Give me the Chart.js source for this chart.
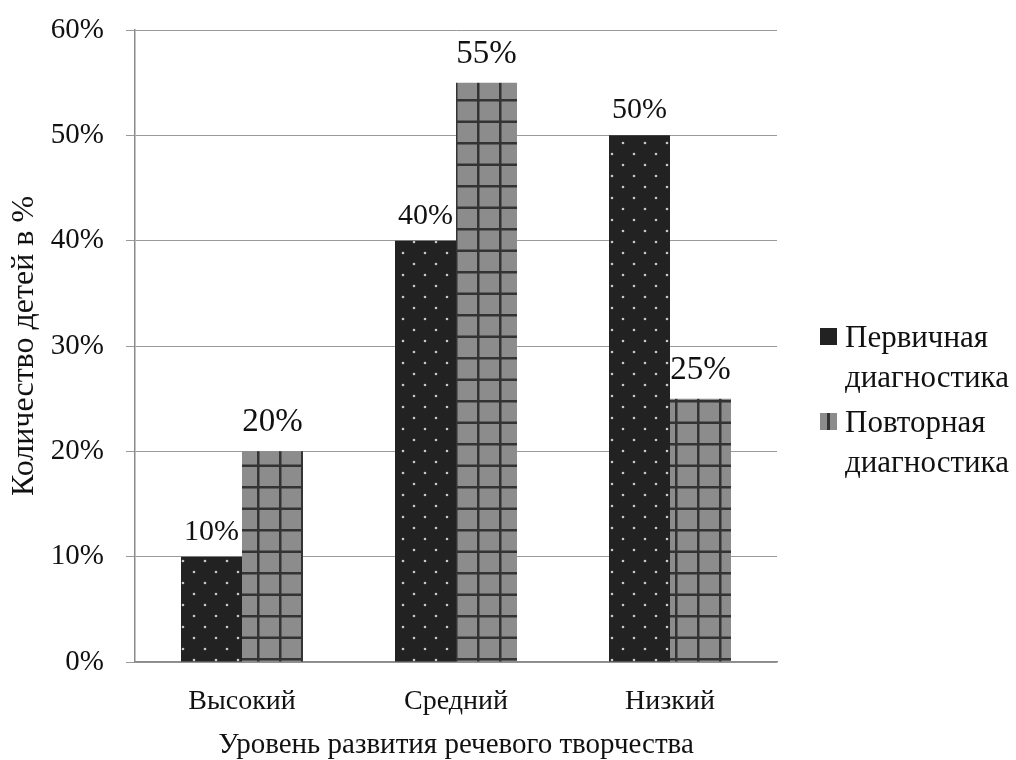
<!DOCTYPE html>
<html>
<head>
<meta charset="utf-8">
<script src="https://cdn.jsdelivr.net/npm/chart.js@4/dist/chart.umd.min.js"></script>
<style>
  html, body { margin: 0; padding: 0; background: #fff; }
  #wrap { width: 1016px; height: 760px; }
</style>
</head>
<body>
<div id="wrap"><canvas id="chart" width="1016" height="760"></canvas></div>
<script>
// data
const levels = ['Высокий', 'Средний', 'Низкий'];
const firstDiag = [10, 40, 50];
const secondDiag = [20, 55, 25];
const seriesNames = [['Первичная', 'диагностика'], ['Повторная', 'диагностика']];
const yTicks = [0, 10, 20, 30, 40, 50, 60];

const serif = '"Liberation Serif", "DejaVu Serif", serif';

// dotted dark fill
function dotPattern() {
    const c = document.createElement('canvas');
    c.width = 22; c.height = 22;
    const g = c.getContext('2d');
    g.fillStyle = '#222';
    g.fillRect(0, 0, 22, 22);
    g.fillStyle = '#c8c8c8';
    [[7, 11], [18, 0], [18, 22]].forEach(p => {
        g.beginPath();
        g.arc(p[0], p[1], 1.3, 0, Math.PI * 2);
        g.fill();
    });
    return g.createPattern(c, 'repeat');
}

// gray grid fill, rows a bit tighter than columns
function gridPattern() {
    const c = document.createElement('canvas');
    c.width = 22; c.height = 43;
    const g = c.getContext('2d');
    g.fillStyle = '#8c8c8c';
    g.fillRect(0, 0, 22, 43);
    g.fillStyle = '#333';
    g.fillRect(0, 0, 2.5, 43);
    g.fillRect(0, 0, 22, 2.5);
    g.fillRect(0, 21.5, 22, 2.5);
    const p = g.createPattern(c, 'repeat');
    p.setTransform(new DOMMatrix().translate(15, 13));
    return p;
}

const fills = [dotPattern(), gridPattern()];

// values above the bars
const valueLabels = {
    id: 'valueLabels',
    afterDatasetsDraw(chart) {
        const ctx = chart.ctx;
        ctx.save();
        ctx.fillStyle = '#111';
        ctx.textAlign = 'center';
        ctx.textBaseline = 'alphabetic';
        chart.data.datasets.forEach((ds, i) => {
            ctx.font = (i === 0 ? '30px ' : '33px ') + serif;
            chart.getDatasetMeta(i).data.forEach((bar, j) => {
                ctx.fillText(ds.data[j] + '%', bar.x, bar.y - (i === 0 ? 17 : 20));
            });
        });
        ctx.restore();
    }
};

// two-line legend on the right
const sideLegend = {
    id: 'sideLegend',
    afterDraw(chart) {
        const ctx = chart.ctx;
        ctx.save();
        ctx.font = '31px ' + serif;
        ctx.textBaseline = 'alphabetic';
        ctx.textAlign = 'left';
        const x = 820, base0 = 347, step = 85;
        seriesNames.forEach((lines, i) => {
            const b = base0 + i * step;
            ctx.fillStyle = i === 0 ? '#222' : '#8c8c8c';
            ctx.fillRect(x, b - 19, 17, 17);
            if (i === 1) {
                ctx.fillStyle = '#333';
                ctx.fillRect(x + 7, b - 19, 3, 17);
            }
            ctx.fillStyle = '#111';
            ctx.fillText(lines[0], x + 25, b);
            ctx.fillText(lines[1], x + 25, b + 40);
        });
        ctx.restore();
    }
};

new Chart(document.getElementById('chart'), {
    type: 'bar',
    data: {
        labels: levels,
        datasets: [
            { label: seriesNames[0].join(' '), data: firstDiag, backgroundColor: fills[0] },
            { label: seriesNames[1].join(' '), data: secondDiag, backgroundColor: fills[1] }
        ]
    },
    options: {
        responsive: false,
        animation: false,
        layout: { padding: { top: 30, right: 239, left: 0, bottom: 0 } },
        datasets: { bar: { categoryPercentage: 0.57, barPercentage: 1.0 } },
        plugins: {
            legend: { display: false },
            tooltip: { enabled: false }
        },
        scales: {
            y: {
                min: 0,
                max: 60,
                afterBuildTicks: s => { s.ticks = yTicks.map(v => ({ value: v })); },
                afterFit: s => { s.width = 135; s.paddingTop = 0; s.paddingBottom = 0; },
                grid: { color: '#9a9a9a', lineWidth: 1, tickLength: 9, drawTicks: true },
                border: { color: '#8a8a8a', width: 1.5 },
                ticks: {
                    color: '#111',
                    font: { family: serif, size: 29 },
                    padding: 22,
                    callback: v => v + '%'
                },
                title: {
                    display: true,
                    text: 'Количество детей в %',
                    color: '#111',
                    font: { family: serif, size: 32, lineHeight: 1.0 },
                    padding: { top: 9, bottom: 0 }
                }
            },
            x: {
                afterFit: s => { s.height = 98; },
                grid: { display: false },
                border: { color: '#8a8a8a', width: 1.5 },
                ticks: {
                    color: '#111',
                    font: { family: serif, size: 28 },
                    padding: 15
                },
                title: {
                    display: true,
                    text: 'Уровень развития речевого творчества',
                    color: '#111',
                    font: { family: serif, size: 29, lineHeight: 1.0 },
                    padding: { top: 0, bottom: 0 }
                }
            }
        }
    },
    plugins: [valueLabels, sideLegend]
});
</script>
</body>
</html>
